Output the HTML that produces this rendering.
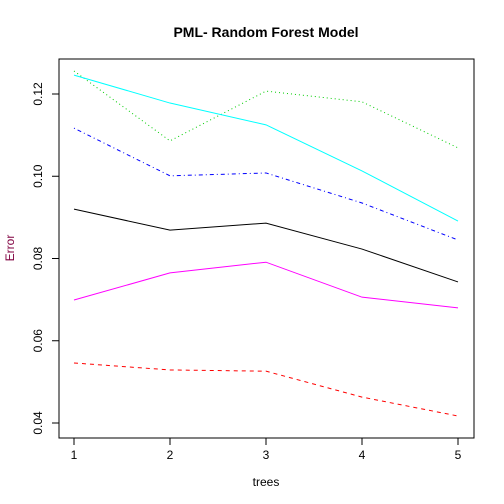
<!DOCTYPE html>
<html><head><meta charset="utf-8"><style>body{margin:0;background:#fff}svg{display:block;font-family:"Liberation Sans",Arial,sans-serif}</style></head>
<body>
<svg id="chart" width="504" height="504">
<text x="266" y="37" text-anchor="middle" font-weight="bold" font-size="14">PML- Random Forest Model</text>
<rect x="59" y="59" width="415" height="379" fill="none" stroke="#000"/>
<text x="266" y="486" text-anchor="middle" font-size="12">trees</text>
<text transform="translate(14,248) rotate(-90)" text-anchor="middle" font-size="12" fill="#800040">Error</text>
<g id="axes"></g><g id="series"></g>
</svg>
<script>
const trees=[1,2,3,4,5];
const yTicks=[0.04,0.06,0.08,0.10,0.12];
const yTickLabels=["0.04","0.06","0.08","0.10","0.12"];
const errBlack=[0.0920,0.0869,0.0886,0.0823,0.0743];
const errRed=[0.0546,0.0529,0.0526,0.0463,0.0417];
const errGreen=[0.1256,0.1086,0.1207,0.1181,0.1069];
const errBlue=[0.1117,0.1001,0.1008,0.0935,0.0845];
const errCyan=[0.1246,0.1178,0.1125,0.1013,0.0891];
const errMagenta=[0.0699,0.0765,0.0791,0.0706,0.0680];
const NS="http://www.w3.org/2000/svg";
const xs=t=>74+(t-1)*96;
const ys=v=>423-(v-0.04)*4112.5;
const ax=document.getElementById('axes');
function mk(tag,at,parent){const e=document.createElementNS(NS,tag);for(const k in at)e.setAttribute(k,at[k]);parent.appendChild(e);return e;}
mk('line',{x1:xs(1),x2:xs(5),y1:438,y2:438,stroke:'#000'},ax);
trees.forEach(t=>{
 const l=mk('line',{x1:xs(t),x2:xs(t),y1:438,y2:445,stroke:'#000'},ax);
 
 
 const tx=mk('text',{x:xs(t),y:459,'text-anchor':'middle','font-size':12},ax);tx.textContent=t;
 
 
});
mk('line',{x1:59,x2:59,y1:ys(0.04),y2:ys(0.12),stroke:'#000'},ax);
yTicks.forEach((v,i)=>{
 const l=mk('line',{x1:52,x2:59,y1:ys(v),y2:ys(v),stroke:'#000'},ax);
 
 
 const tx=mk('text',{transform:`translate(42,${ys(v)}) rotate(-90)`,'text-anchor':'middle','font-size':12},ax);tx.textContent=yTickLabels[i];
 
 
});
const sg=document.getElementById('series');
const defs=[[errBlack,'#000','','series-oob'],[errRed,'#f00','4,4','series-class-1'],[errGreen,'#00cd00','1,3','series-class-2'],[errBlue,'#00f','1,3,4,3','series-class-3'],[errCyan,'#0ff','','series-class-4'],[errMagenta,'#f0f','','series-class-5']];
defs.forEach(d=>{
 const p=mk('polyline',{points:d[0].map((v,i)=>xs(trees[i])+','+ys(v)).join(' '),fill:'none',stroke:d[1],'stroke-width':1},sg);
 if(d[2])p.setAttribute('stroke-dasharray',d[2]);
 
 
});
</script>
</body></html>
